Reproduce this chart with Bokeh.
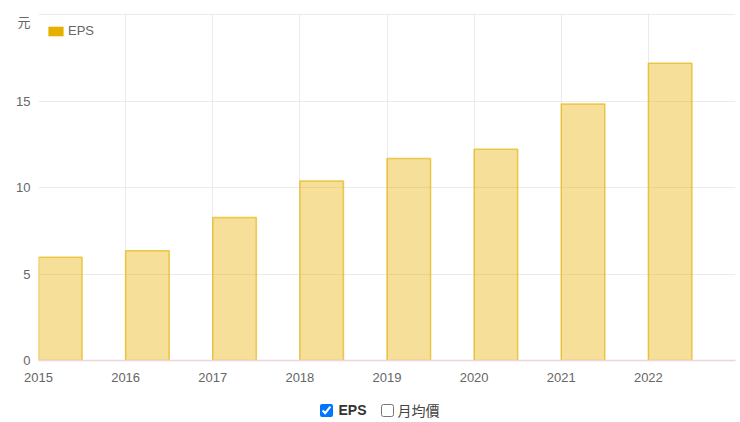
from bokeh.plotting import figure
from bokeh.models import (ColumnDataSource, Range1d, FixedTicker, Legend, LegendItem, Div)
from bokeh.transform import dodge
from bokeh.layouts import column
from bokeh.embed import file_html
from bokeh.resources import INLINE

# ---- data ----
years = [2015, 2016, 2017, 2018, 2019, 2020, 2021, 2022]
eps = [5.97, 6.34, 8.27, 10.38, 11.67, 12.21, 14.82, 17.18]
y_ticks = [0, 5, 10, 15, 20]
y_max = 20
x_end = 2023
unit_label = "元"
series_name = "EPS"
toggle_labels = ["EPS", "月均價"]

FONT = "'Liberation Sans', Arial, 'Noto Sans CJK TC', sans-serif"
GOLD = "#E6B000"

W, H = 740, 390
BL, BR, BT, BB = 38, 5, 13, 30
frame_h = H - BT - BB
px_per_unit = (frame_h - 1) / y_max

src = ColumnDataSource(dict(year=years, eps=eps))

p = figure(width=W, height=H, output_backend="svg", toolbar_location=None,
           x_range=Range1d(years[0], x_end),
           y_range=Range1d(0, y_max + 1 / px_per_unit),
           min_border_left=BL, min_border_right=BR, min_border_top=BT,
           min_border_bottom=BB)
p.outline_line_color = None
p.background_fill_color = "white"
p.border_fill_color = "white"

p.vbar(x=dodge("year", 0.25, range=p.x_range), top="eps", width=0.5, bottom=0,
       source=src, fill_color=GOLD, fill_alpha=0.4, line_color=GOLD,
       line_alpha=0.65, line_width=1.5)

# legend swatch renderer: zero-height bars, only used for the solid legend box
sw = p.vbar(x=dodge("year", 0.25, range=p.x_range), top="eps", bottom="eps",
            width=0.5, source=src, fill_color=GOLD, line_color=None)
legend = Legend(items=[LegendItem(label=series_name, renderers=[sw])],
                location=(8, frame_h - 13 - 12), glyph_width=19, glyph_height=12,
                label_height=12, label_standoff=3, padding=0, margin=0,
                border_line_alpha=0, background_fill_alpha=0,
                label_text_font=FONT, label_text_font_size="13px",
                label_text_color="#666666")
p.add_layout(legend)

# axes
unit_pos = y_max - 8 / px_per_unit
p.xaxis.ticker = FixedTicker(ticks=years)
p.yaxis.ticker = FixedTicker(ticks=y_ticks[:-1] + [unit_pos])
p.yaxis.major_label_overrides = {unit_pos: unit_label}
for ax in (p.xaxis[0], p.yaxis[0]):
    ax.major_tick_line_color = None
    ax.minor_tick_line_color = None
    ax.major_tick_out = 0
    ax.major_tick_in = 0
    ax.major_label_text_font = FONT
    ax.major_label_text_font_size = "13px"
    ax.major_label_text_color = "#666666"
p.yaxis.axis_line_color = None
p.yaxis.major_label_standoff = 8
p.xaxis.axis_line_color = "#efd3d8"
p.xaxis.axis_line_width = 1.5
p.xaxis.major_label_standoff = 12

p.xgrid.ticker = FixedTicker(ticks=years)
p.ygrid.ticker = FixedTicker(ticks=y_ticks)
p.grid.grid_line_color = "#ebebeb"
p.grid.grid_line_width = 1

html = (
    f'<div style="width:{W}px;text-align:center;padding-top:5px;padding-left:10px;'
    f'box-sizing:border-box;font-family:{FONT};font-size:14px;color:#444;white-space:nowrap;">'
    f'<label style="display:inline-flex;align-items:center;">'
    f'<input type="checkbox" checked style="margin:0 5px 0 0;width:13px;height:13px;">'
    f'<b style="color:#333;">{toggle_labels[0]}</b></label>'
    f'<label style="display:inline-flex;align-items:center;margin-left:14px;">'
    f'<input type="checkbox" style="margin:0 4px 0 0;width:13px;height:13px;">'
    f'<span style="font-family:\'Noto Sans CJK TC\',sans-serif;">{toggle_labels[1]}</span></label>'
    f'</div>'
)
d = Div(text=html, width=W, height=32)

layout = column(p, d)
open("out.html", "w").write(file_html(layout, INLINE))
